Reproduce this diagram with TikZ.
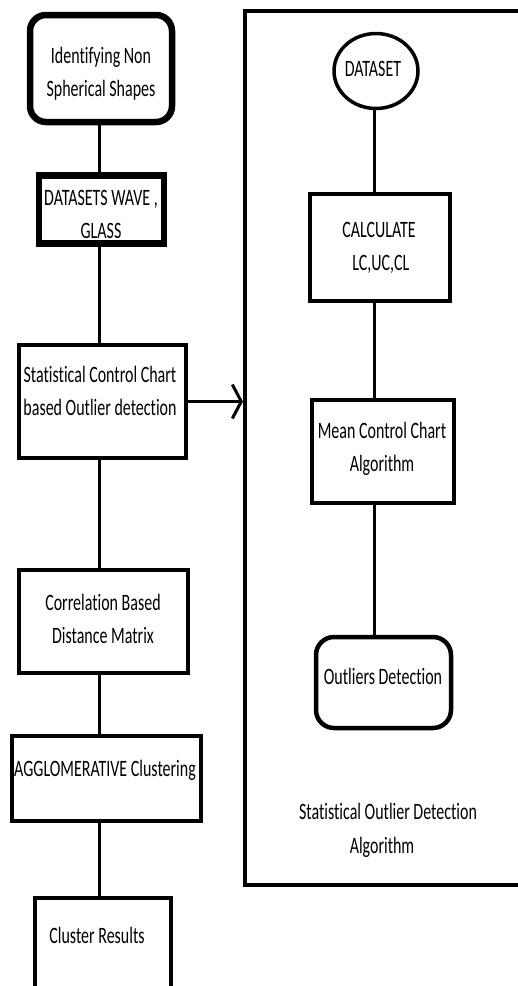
\documentclass[tikz,border=0pt]{standalone}
\usepackage{fontspec}
\setmainfont{Carlito}[Ligatures=NoCommon]
\usepackage{graphicx}
\usetikzlibrary{arrows.meta,shapes.geometric}
\newcommand{\sqtext}[1]{\scalebox{0.68}[1]{\begin{tabular}{@{}c@{}}#1\end{tabular}}}
\begin{document}
\begin{tikzpicture}[x=1pt,y=-1pt,
  box/.style={draw, line width=4pt, rectangle, inner sep=0pt, fill=white,
    font=\fontsize{23.5}{33}\selectfont},
  conn/.style={line width=3pt},
  lbl/.style={inner sep=0pt, font=\fontsize{23.5}{33}\selectfont}]
\useasboundingbox (0,0) rectangle (518,986);
% outer frame
\node[box, line width=4pt, fill=none, minimum width=285pt, minimum height=874pt] (outer) at (387.5,448) {};
% left column
\node[box, line width=6.5pt, rounded corners=16pt, minimum width=142pt, minimum height=107pt] (b1) at (101,68.5) {};
\node[lbl] (t1) at (101,73) {\sqtext{Identifying Non\\Spherical Shapes}};
\node[box, line width=6.5pt, minimum width=125pt, minimum height=68pt] (b2) at (101.5,209.5) {};
\node[lbl] (t2) at (101,215) {\sqtext{DATASETS WAVE ,\\GLASS}};
\node[box, minimum width=167pt, minimum height=113pt] (b3) at (102.5,401.5) {};
\node[lbl] (t3) at (100,392) {\sqtext{Statistical Control Chart\\based Outlier detection}};
\node[box, minimum width=169pt, minimum height=103pt] (b4) at (103.5,621.5) {};
\node[lbl] (t4) at (103,620) {\sqtext{Correlation Based\\Distance Matrix}};
\node[box, minimum width=189pt, minimum height=85pt] (b5) at (106.5,778.5) {};
\node[lbl] (t5) at (105,770) {\sqtext{AGGLOMERATIVE Clustering}};
\node[box, minimum width=136pt, minimum height=100pt] (b6) at (103,948) {};
\node[lbl] (t6) at (97,937) {\sqtext{Cluster Results}};
% right column
\node[box, ellipse, line width=3.5pt, minimum width=84pt, minimum height=75pt] (e) at (376,71) {};
\node[lbl] (te) at (373,70) {\sqtext{DATASET}};
\node[box, line width=4.5pt, minimum width=140pt, minimum height=107pt] (c1) at (380,247.5) {};
\node[lbl] (tc1) at (379,247) {\sqtext{CALCULATE\\\ LC,UC,CL}};
\node[box, line width=4.5pt, minimum width=142pt, minimum height=103pt] (c2) at (383,451.5) {};
\node[lbl] (tc2) at (382,448) {\sqtext{Mean Control Chart\\Algorithm}};
\node[box, line width=4.5pt, rounded corners=18pt, minimum width=135pt, minimum height=91pt] (c3) at (383.5,682.5) {};
\node[lbl] (tc3) at (383,678) {\sqtext{Outliers Detection}};
\node[lbl] (ta) at (388,813) {\sqtext{Statistical Outlier Detection}};
\node[lbl] (tb) at (382,847) {\sqtext{Algorithm}};
% connectors
\coordinate (L) at (99,0);
\coordinate (R) at (374,0);
\draw[conn] (b1.south -| L) -- (b2.north -| L);
\draw[conn] (b2.south -| L) -- (b3.north -| L);
\draw[conn] (b3.south -| L) -- (b4.north -| L);
\draw[conn] (b4.south -| L) -- (b5.north -| L);
\draw[conn] (b5.south -| L) -- (b6.north -| L);
\draw[conn] (e.south -| R) -- (c1.north -| R);
\draw[conn] (c1.south -| R) -- (c2.north -| R);
\draw[conn] (c2.south -| R) -- (c3.north -| R);
\draw[conn, -{Straight Barb[length=9pt,width=34pt,line width=3pt]}] (b3.east) -- (b3.east -| outer.west);
\end{tikzpicture}
\end{document}
